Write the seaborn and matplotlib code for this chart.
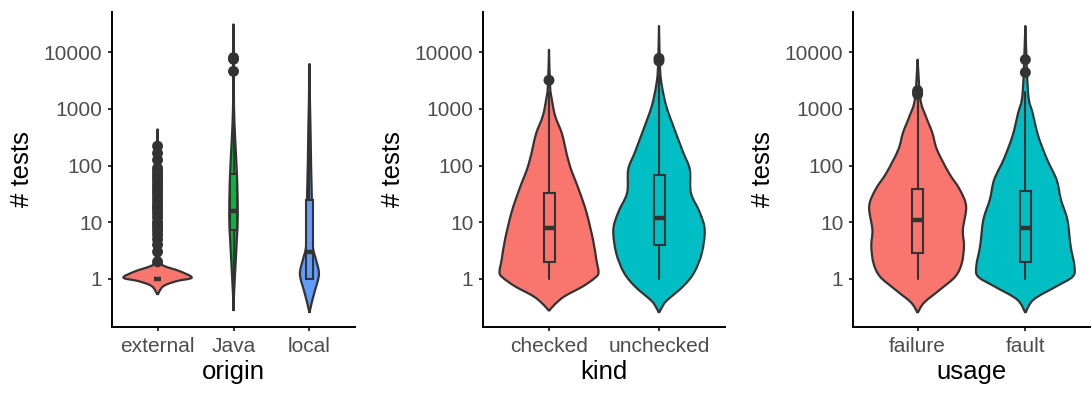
import numpy as np
import pandas as pd
import seaborn as sns
import matplotlib.pyplot as plt
from matplotlib.ticker import NullLocator
from matplotlib.path import Path
from matplotlib.patches import PathPatch

# colores estilo ggplot
pal3 = ['#F8766D', '#00BA38', '#619CFF']
pal2 = ['#F8766D', '#00BFC4']
line_col = '#333333'

origin_groups = ['external', 'Java', 'local']
kind_groups = ['checked', 'unchecked']
usage_groups = ['failure', 'fault']

# contorno de cada violin: valor de # tests y semi-ancho (unidades de categoria)
external_y = [0.52, 0.74, 0.91, 1.05, 1.35, 1.66, 1.9, 3.2, 32, 435]
external_w = [0, 0.075, 0.25, 0.45, 0.30, 0.10, 0.05, 0.015, 0.005, 0]
java_y = [0.27, 0.45, 1.7, 4.9, 12.6, 44, 130, 380, 980, 2900, 31000]
java_w = [0, 0.004, 0.026, 0.044, 0.056, 0.05, 0.036, 0.018, 0.007, 0.002, 0]
local_y = [0.25, 0.38, 0.58, 1.2, 2.2, 3.3, 5.6, 25, 98, 380, 1500, 6200]
local_w = [0, 0.03, 0.066, 0.125, 0.085, 0.05, 0.038, 0.032, 0.022, 0.015, 0.006, 0]

checked_y = [0.27, 0.35, 0.49, 0.74, 1.05, 1.3, 2.2, 4.9, 15, 38, 98, 220, 380, 760, 1500, 2500, 11000]
checked_w = [0, 0.05, 0.14, 0.31, 0.42, 0.45, 0.43, 0.40, 0.34, 0.27, 0.19, 0.145, 0.115, 0.055, 0.025, 0.01, 0]
unchecked_y = [0.25, 0.35, 0.43, 0.74, 1.3, 2.9, 7.4, 15, 33, 85, 170, 440, 1100, 2500, 5000, 29000]
unchecked_w = [0, 0.04, 0.08, 0.22, 0.32, 0.39, 0.415, 0.37, 0.29, 0.28, 0.22, 0.14, 0.067, 0.027, 0.01, 0]

failure_y = [0.25, 0.38, 0.65, 1.1, 1.9, 3.8, 7.4, 19, 38, 74, 190, 380, 740, 1500, 7400]
failure_w = [0, 0.06, 0.21, 0.35, 0.41, 0.43, 0.42, 0.45, 0.39, 0.29, 0.18, 0.136, 0.076, 0.025, 0]
fault_y = [0.25, 0.43, 0.74, 1.1, 1.7, 3.8, 11, 25, 56, 130, 330, 850, 1950, 29000]
fault_w = [0, 0.076, 0.29, 0.44, 0.455, 0.42, 0.39, 0.33, 0.29, 0.20, 0.12, 0.067, 0.025, 0]

# cajas: whislo, q1, med, q3, whishi
origin_box = [[1, 1, 1, 1, 1], [1, 7.4, 16, 70, 2000], [1, 1, 3, 25, 6000]]
kind_box = [[1, 2, 8, 33, 2000], [1, 3.9, 12, 67, 4000]]
usage_box = [[1, 2.9, 11, 38, 1500], [1, 2, 8, 35, 2000]]

# outliers
external_out = [2, 3, 4, 5, 6, 7, 8, 9, 10, 12, 14, 16, 18, 20, 23, 26, 30, 34, 38, 43,
                48, 55, 62, 70, 80, 90, 125, 165, 220]
java_out = [4600, 7500, 8000]
local_out = []
checked_out = [3200]
unchecked_out = [7000, 7800]
failure_out = [1800, 1950, 2100]
fault_out = [4400, 7400]

sns.set_theme(style='ticks')
plt.rcParams['font.family'] = ['Liberation Sans', 'DejaVu Sans']


def smooth_side(x, ly):
    # curva Catmull-Rom -> Bezier cubica a traves de los puntos leidos
    pts = np.column_stack([x, ly])
    ext = np.vstack([pts[0], pts, pts[-1]])
    verts = [pts[0]]
    for k in range(len(pts) - 1):
        p0, p1, p2, p3 = ext[k], ext[k + 1], ext[k + 2], ext[k + 3]
        verts += [p1 + (p2 - p0) / 6, p2 - (p3 - p1) / 6, p2]
    return np.array(verts)


def violin_patch(i, y, w, color):
    ly = np.log10(y)
    right = smooth_side(i + w, ly)
    left = smooth_side(i - w[::-1], ly[::-1])
    verts = np.vstack([right, left[1:]])
    codes = [Path.MOVETO] + [Path.CURVE4] * (len(verts) - 1)
    verts[:, 1] = 10 ** verts[:, 1]
    return PathPatch(Path(verts, codes), facecolor=color, edgecolor=line_col,
                     linewidth=1.6, joinstyle='round', zorder=2)


def draw_panel(ax, groups, ys, ws, boxes, outs, palette, xlabel):
    ax.set_yscale('log')
    for i in range(len(groups)):
        ax.add_patch(violin_patch(i, np.array(ys[i]), np.array(ws[i]), palette[i]))
    stats = [dict(whislo=b[0], q1=b[1], med=b[2], q3=b[3], whishi=b[4]) for b in boxes]
    bp = ax.bxp(stats, positions=range(len(groups)), widths=0.1, patch_artist=True,
                showfliers=False, showcaps=False, manage_ticks=False,
                boxprops=dict(edgecolor=line_col, linewidth=1.5),
                medianprops=dict(color=line_col, linewidth=3.2, solid_capstyle='butt'),
                whiskerprops=dict(color=line_col, linewidth=1.5))
    for patch, c in zip(bp['boxes'], palette):
        patch.set_facecolor(c)
        patch.set_zorder(3)
    for k in ['whiskers', 'medians']:
        for l in bp[k]:
            l.set_zorder(3.5)

    ox, oy = [], []
    for i, o in enumerate(outs):
        ox += [i] * len(o)
        oy += o
    df_out = pd.DataFrame({'x': ox, 'y': oy})
    if len(df_out):
        sns.scatterplot(data=df_out, x='x', y='y', ax=ax, color=line_col, s=62,
                        edgecolor='none', zorder=5, legend=False)

    ax.set_xlim(-0.6, len(groups) - 0.4)
    ax.set_ylim(10 ** -0.85, 10 ** 4.71)
    ax.set_xticks(range(len(groups)))
    ax.set_xticklabels(groups)
    ax.set_yticks([1, 10, 100, 1000, 10000])
    ax.set_yticklabels(['1', '10', '100', '1000', '10000'])
    ax.yaxis.set_minor_locator(NullLocator())
    ax.set_xlabel(xlabel, fontsize=18.5, color='black', labelpad=3)
    ax.set_ylabel('# tests', fontsize=18.5, color='black', labelpad=7)
    ax.tick_params(labelsize=15, labelcolor='#4D4D4D', color=line_col,
                   length=3, width=1.4, pad=4)
    sns.despine(ax=ax)
    for s in ['left', 'bottom']:
        ax.spines[s].set_linewidth(1.4)
        ax.spines[s].set_color('black')


fig = plt.figure(figsize=(10.92, 3.94), dpi=100)
ax1 = fig.add_axes([112 / 1092, 67 / 394, 243 / 1092, 315 / 394])
ax2 = fig.add_axes([483 / 1092, 67 / 394, 242 / 1092, 315 / 394])
ax3 = fig.add_axes([853 / 1092, 67 / 394, 237 / 1092, 315 / 394])

draw_panel(ax1, origin_groups, [external_y, java_y, local_y], [external_w, java_w, local_w],
           origin_box, [external_out, java_out, local_out], pal3, 'origin')
draw_panel(ax2, kind_groups, [checked_y, unchecked_y], [checked_w, unchecked_w],
           kind_box, [checked_out, unchecked_out], pal2, 'kind')
draw_panel(ax3, usage_groups, [failure_y, fault_y], [failure_w, fault_w],
           usage_box, [failure_out, fault_out], pal2, 'usage')

fig.savefig('out.png', dpi=100, facecolor='white')
